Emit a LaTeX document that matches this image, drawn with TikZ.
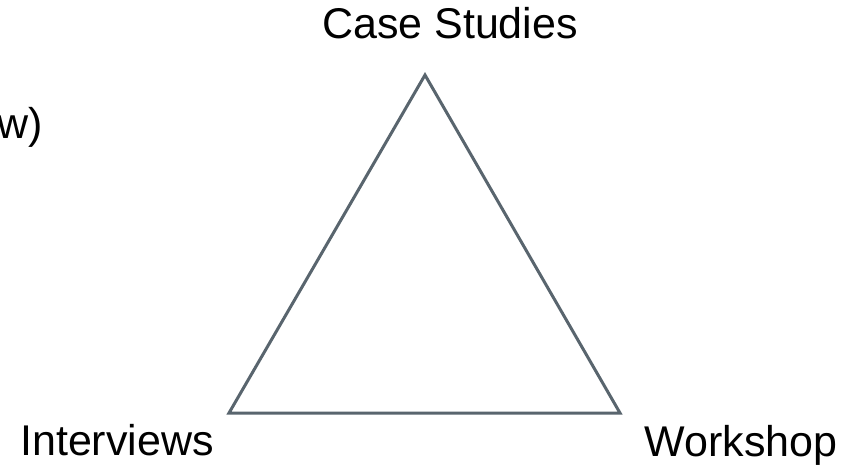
\documentclass[tikz,border=0pt]{standalone}
\usepackage{fontspec}
\setmainfont{Liberation Sans}
\usepackage{xcolor}
\usepackage{tikz}

\definecolor{edgegray}{RGB}{89,101,110}

\begin{document}
\begin{tikzpicture}[x=1pt, y=-1pt,
    label/.style={anchor=base, inner sep=0pt, font=\fontsize{43}{50}\selectfont},
    side/.style={draw=edgegray, line width=3pt, line join=miter}]
  % --- area visibile (851 x 466) ---
  \clip (0,0) rectangle (851,466);
  \fill[white] (0,0) rectangle (851,466);

  % --- vertici del triangolo ---
  \coordinate (top)   at (425,75);
  \coordinate (left)  at (229,413);
  \coordinate (right) at (620,413);
  \draw[side] (top) -- (left) -- (right) -- cycle;

  % --- etichette ---
  \node[label] (case)       at (450,38)  {Case Studies};
  \node[label] (interviews) at (117,455) {Interviews};
  \node[label] (workshop)   at (741,456) {Workshop};
  \node[label, anchor=base east] (review) at (43,138) {w)};
\end{tikzpicture}
\end{document}
